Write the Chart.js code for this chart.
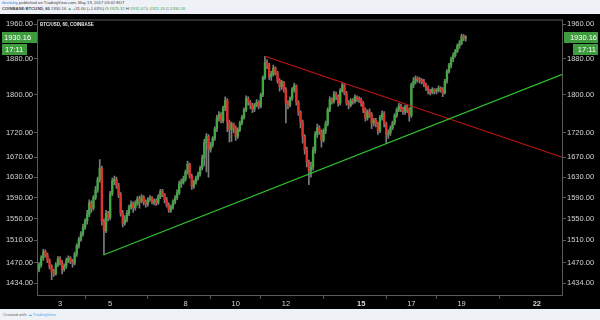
<!DOCTYPE html>
<html>
<head>
<meta charset="utf-8">
<script src="https://cdn.jsdelivr.net/npm/chart.js@4.4.0/dist/chart.umd.min.js"></script>
<style>
  html, body { margin: 0; padding: 0; width: 600px; height: 320px; overflow: hidden; background: #eef1f6; font-family: "Liberation Sans", Arial, sans-serif; }
  #head { position: absolute; left: 2px; top: 0; font-size: 4.2px; line-height: 6px; color: #444; white-space: nowrap; }
  #head .user { color: #2a7de1; }
  #head .g { color: #3aa34a; }
  #wrap { position: absolute; left: 0; top: 14px; width: 600px; height: 295px; background: #000; }
  #foot { position: absolute; left: 3px; top: 309px; font-size: 4.2px; line-height: 11px; color: #666; white-space: nowrap; }
  #foot .tv { color: #5aa9e6; }
</style>
</head>
<body>
<div id="head">
  <div><span class="user">tlevitskiy</span> published on TradingView.com, May 19, 2017 03:42 EDT</div>
  <div><b>COINBASE:BTCUSD, 60</b> 1930.16 <span class="g">&#9650;</span> +31.00 (+1.63%) O:<span class="g">1925.32</span> H:<span class="g">1931.07</span> L:<span class="g">1921.20</span> C:<span class="g">1930.16</span></div>
</div>
<div id="wrap"><canvas id="myChart" width="600" height="295"></canvas></div>
<div id="foot">Created with <span class="tv">&#9729; TradingView</span></div>
<script>
// 2-hour candles, first one at hour 2 of May 2
const startHour = 2;
const step = 2;
const firstOpen = 1452;

const closes = [
    1458, 1466, 1478, 1490, 1484, 1474, 1463, 1455, 1450, 1466, 1477,          // May 2
    1470, 1458, 1464, 1474, 1478, 1472, 1469, 1485, 1500, 1512, 1522, 1534,    // May 3
    1546, 1558, 1580, 1570, 1590, 1605, 1625, 1648, 1545, 1528, 1560, 1552,    // May 4
    1598, 1622, 1626, 1614, 1596, 1560, 1542, 1548, 1560, 1572, 1578, 1571,    // May 5
    1579, 1588, 1584, 1591, 1582, 1578, 1586, 1589, 1582, 1584, 1580, 1592,    // May 6
    1602, 1596, 1586, 1576, 1566, 1572, 1582, 1590, 1600, 1617, 1620, 1626,    // May 7
    1640, 1656, 1632, 1612, 1620, 1628, 1636, 1648, 1668, 1700, 1712, 1686,    // May 8
    1695, 1708, 1728, 1750, 1758, 1745, 1772, 1788, 1742, 1726, 1738, 1730,    // May 9
    1712, 1726, 1740, 1752, 1768, 1792, 1784, 1778, 1770, 1778, 1784, 1776,    // May 10
    1800, 1838, 1872, 1866, 1840, 1846, 1860, 1848, 1832, 1818, 1828, 1812,    // May 11
    1782, 1778, 1792, 1812, 1820, 1784, 1762, 1742, 1712, 1684, 1660, 1642,    // May 12
    1650, 1684, 1716, 1730, 1722, 1704, 1724, 1738, 1768, 1790, 1786, 1802,    // May 13
    1796, 1782, 1810, 1822, 1804, 1782, 1778, 1788, 1786, 1796, 1792, 1790,    // May 14
    1782, 1768, 1750, 1764, 1758, 1740, 1746, 1738, 1724, 1752, 1760, 1738,    // May 15
    1716, 1720, 1730, 1740, 1756, 1768, 1776, 1770, 1764, 1774, 1768, 1756,    // May 16
    1822, 1830, 1836, 1834, 1832, 1830, 1822, 1816, 1808, 1805, 1812, 1808,    // May 17
    1810, 1815, 1812, 1804, 1830, 1852, 1866, 1880, 1888, 1898, 1910, 1916,    // May 18
    1932, 1928, 1930                                                           // May 19
];

const highs = [
    1462, 1470, 1482, 1494, 1493, 1487, 1477, 1466, 1458, 1470, 1481,
    1481, 1474, 1468, 1478, 1482, 1481, 1476, 1489, 1504, 1516, 1526, 1540,
    1550, 1566, 1586, 1584, 1594, 1612, 1630, 1665, 1652, 1550, 1566, 1564,
    1602, 1628, 1632, 1630, 1618, 1600, 1566, 1556, 1566, 1576, 1584, 1582,
    1584, 1592, 1593, 1596, 1594, 1586, 1590, 1594, 1592, 1588, 1588, 1596,
    1606, 1606, 1598, 1590, 1580, 1576, 1586, 1594, 1605, 1622, 1626, 1632,
    1644, 1662, 1658, 1636, 1624, 1632, 1640, 1652, 1674, 1706, 1718, 1716,
    1700, 1712, 1732, 1756, 1764, 1762, 1776, 1796, 1792, 1746, 1742, 1740,
    1734, 1730, 1744, 1756, 1772, 1798, 1796, 1788, 1782, 1782, 1790, 1788,
    1804, 1842, 1886, 1878, 1870, 1852, 1866, 1862, 1852, 1836, 1832, 1830,
    1816, 1788, 1796, 1816, 1826, 1822, 1788, 1766, 1746, 1716, 1690, 1664,
    1660, 1690, 1722, 1738, 1734, 1726, 1728, 1744, 1772, 1796, 1794, 1808,
    1806, 1800, 1814, 1828, 1824, 1808, 1788, 1792, 1792, 1800, 1798, 1796,
    1794, 1786, 1772, 1768, 1770, 1762, 1750, 1750, 1742, 1756, 1766, 1764,
    1742, 1726, 1734, 1744, 1760, 1772, 1782, 1780, 1774, 1778, 1778, 1772,
    1826, 1838, 1842, 1840, 1838, 1836, 1834, 1826, 1820, 1812, 1816, 1814,
    1814, 1820, 1818, 1816, 1834, 1856, 1870, 1884, 1894, 1902, 1914, 1922,
    1937, 1936, 1934
];

const lows = [
    1447, 1454, 1462, 1474, 1480, 1470, 1459, 1440, 1446, 1448, 1463,
    1466, 1450, 1455, 1460, 1470, 1468, 1462, 1466, 1481, 1496, 1508, 1518,
    1530, 1540, 1554, 1562, 1566, 1586, 1600, 1620, 1538, 1484, 1524, 1546,
    1548, 1594, 1615, 1608, 1590, 1555, 1535, 1538, 1544, 1556, 1568, 1562,
    1566, 1575, 1570, 1580, 1576, 1572, 1574, 1583, 1578, 1576, 1575, 1577,
    1588, 1592, 1580, 1572, 1562, 1562, 1568, 1578, 1586, 1596, 1610, 1616,
    1622, 1636, 1628, 1606, 1608, 1616, 1624, 1632, 1644, 1652, 1640, 1630,
    1680, 1690, 1704, 1722, 1744, 1740, 1740, 1766, 1722, 1700, 1702, 1720,
    1704, 1708, 1722, 1736, 1748, 1764, 1778, 1770, 1762, 1764, 1774, 1770,
    1772, 1796, 1834, 1858, 1834, 1832, 1842, 1844, 1826, 1808, 1812, 1806,
    1740, 1770, 1774, 1788, 1806, 1778, 1756, 1730, 1698, 1676, 1650, 1615,
    1630, 1644, 1678, 1710, 1716, 1690, 1700, 1718, 1734, 1764, 1780, 1782,
    1790, 1776, 1778, 1806, 1800, 1778, 1770, 1774, 1780, 1782, 1786, 1784,
    1776, 1762, 1744, 1746, 1752, 1728, 1734, 1732, 1716, 1720, 1746, 1732,
    1698, 1708, 1714, 1726, 1736, 1752, 1764, 1764, 1758, 1758, 1762, 1744,
    1752, 1816, 1824, 1828, 1826, 1824, 1818, 1810, 1802, 1800, 1802, 1802,
    1802, 1806, 1806, 1796, 1802, 1826, 1848, 1860, 1874, 1884, 1894, 1904,
    1912, 1922, 1921
];

// trend lines: [hour, price]
const supportLine = [[66, 1484], [505, 1846]];
const resistanceLine = [[220, 1886], [505, 1669]];

const priceTicks = [1434, 1470, 1510, 1550, 1590, 1630, 1670, 1720, 1800, 1880, 1960];
const dayTicks = [3, 5, 8, 10, 12, 15, 17, 19, 22];
const boldDays = [15, 22];

const lastPrice = 1930.16;
const countdown = '17:11';
const title = 'BTC/USD, 60, COINBASE';

const upColor = '#43a843';
const downColor = '#e0322d';
const wickColor = '#7d7d7d';
const axisText = '#d4d4d4';
const frameColor = '#5a5a5a';
const labelBg = '#3e9b3e';

const opens = closes.map((c, i) => i === 0 ? firstOpen : closes[i - 1]);
const hourAt = (i) => startHour + step * i;

const wicks = closes.map((c, i) => ({ x: hourAt(i), y: [lows[i], highs[i]] }));
const bodies = closes.map((c, i) => ({ x: hourAt(i), y: [opens[i], c] }));
const bodyColors = closes.map((c, i) => c >= opens[i] ? upColor : downColor);

const tickFont = { family: '"Liberation Sans", Arial, sans-serif', size: 7.5 };

const priceAxis = (pos) => ({
    type: 'logarithmic',
    position: pos,
    min: 1412,
    max: 1971.7,
    afterBuildTicks: (scale) => { scale.ticks = priceTicks.map(v => ({ value: v })); },
    afterFit: (scale) => { scale.width = 37; },
    ticks: {
        color: axisText,
        font: tickFont,
        padding: 1,
        callback: (v) => Number(v).toFixed(2)
    },
    grid: { drawOnChartArea: false, drawTicks: true, tickLength: 3, color: frameColor },
    border: { display: false }
});

const overlay = {
    id: 'overlay',
    afterDraw(chart) {
        const { ctx, chartArea: a, scales } = chart;
        ctx.save();
        ctx.strokeStyle = frameColor;
        ctx.lineWidth = 1;
        ctx.strokeRect(a.left + 0.5, a.top + 0.5, a.right - a.left - 1, a.bottom - a.top - 1);

        ctx.fillStyle = '#e8e8e8';
        ctx.font = 'bold 4.5px "Liberation Sans", Arial, sans-serif';
        ctx.textBaseline = 'middle';
        ctx.textAlign = 'left';
        ctx.fillText(title, a.left + 3, a.top + 5);

        const y = Math.round(scales.y.getPixelForValue(lastPrice));
        ctx.font = '7.5px "Liberation Sans", Arial, sans-serif';
        // left side
        ctx.fillStyle = labelBg;
        ctx.fillRect(2, y - 5, a.left - 2, 11);
        ctx.fillRect(2, y + 7, 25, 11);
        ctx.fillStyle = '#fff';
        ctx.textAlign = 'left';
        ctx.fillText(lastPrice.toFixed(2), 4, y + 0.5);
        ctx.fillText(countdown, 5, y + 12.5);
        // right side
        ctx.fillStyle = labelBg;
        ctx.fillRect(a.right + 1, y - 5, 600 - a.right - 3, 11);
        ctx.fillRect(573, y + 7, 25, 11);
        ctx.fillStyle = '#fff';
        ctx.textAlign = 'right';
        ctx.fillText(lastPrice.toFixed(2), 597, y + 0.5);
        ctx.fillText(countdown, 596, y + 12.5);
        ctx.restore();
    }
};

const config = {
    type: 'bar',
    data: {
        datasets: [
            {
                label: 'wicks',
                data: wicks,
                backgroundColor: wickColor,
                barThickness: 1,
                grouped: false,
                order: 3
            },
            {
                label: 'bodies',
                data: bodies,
                backgroundColor: bodyColors,
                barThickness: 1.7,
                minBarLength: 1,
                grouped: false,
                order: 2
            },
            {
                type: 'line',
                label: 'support',
                data: supportLine.map(p => ({ x: p[0], y: p[1] })),
                borderColor: '#2fc42f',
                borderWidth: 1.2,
                pointRadius: 0,
                order: 1
            },
            {
                type: 'line',
                label: 'resistance',
                data: resistanceLine.map(p => ({ x: p[0], y: p[1] })),
                borderColor: '#c41414',
                borderWidth: 1.2,
                pointRadius: 0,
                order: 1
            }
        ]
    },
    options: {
        responsive: false,
        animation: false,
        devicePixelRatio: 1,
        layout: { padding: { top: 1, left: 0, right: 0, bottom: 0 } },
        plugins: { legend: { display: false }, tooltip: { enabled: false } },
        scales: {
            x: {
                type: 'linear',
                min: 2,
                max: 505,
                offset: false,
                afterBuildTicks: (scale) => { scale.ticks = dayTicks.map(d => ({ value: (d - 2) * 24 })); },
                afterFit: (scale) => { scale.height = 13; },
                ticks: {
                    color: axisText,
                    padding: 0,
                    maxRotation: 0,
                    autoSkip: false,
                    font: (ctx) => ({
                        family: tickFont.family,
                        size: 7.5,
                        weight: ctx.tick && boldDays.includes(ctx.tick.value / 24 + 2) ? 'bold' : 'normal'
                    }),
                    callback: (v) => String(v / 24 + 2)
                },
                grid: { drawOnChartArea: false, drawTicks: true, tickLength: 3, color: frameColor },
                border: { display: false }
            },
            y: priceAxis('left'),
            y2: priceAxis('right')
        }
    },
    plugins: [overlay]
};

const myChart = new Chart(document.getElementById('myChart'), config);
</script>
</body>
</html>
